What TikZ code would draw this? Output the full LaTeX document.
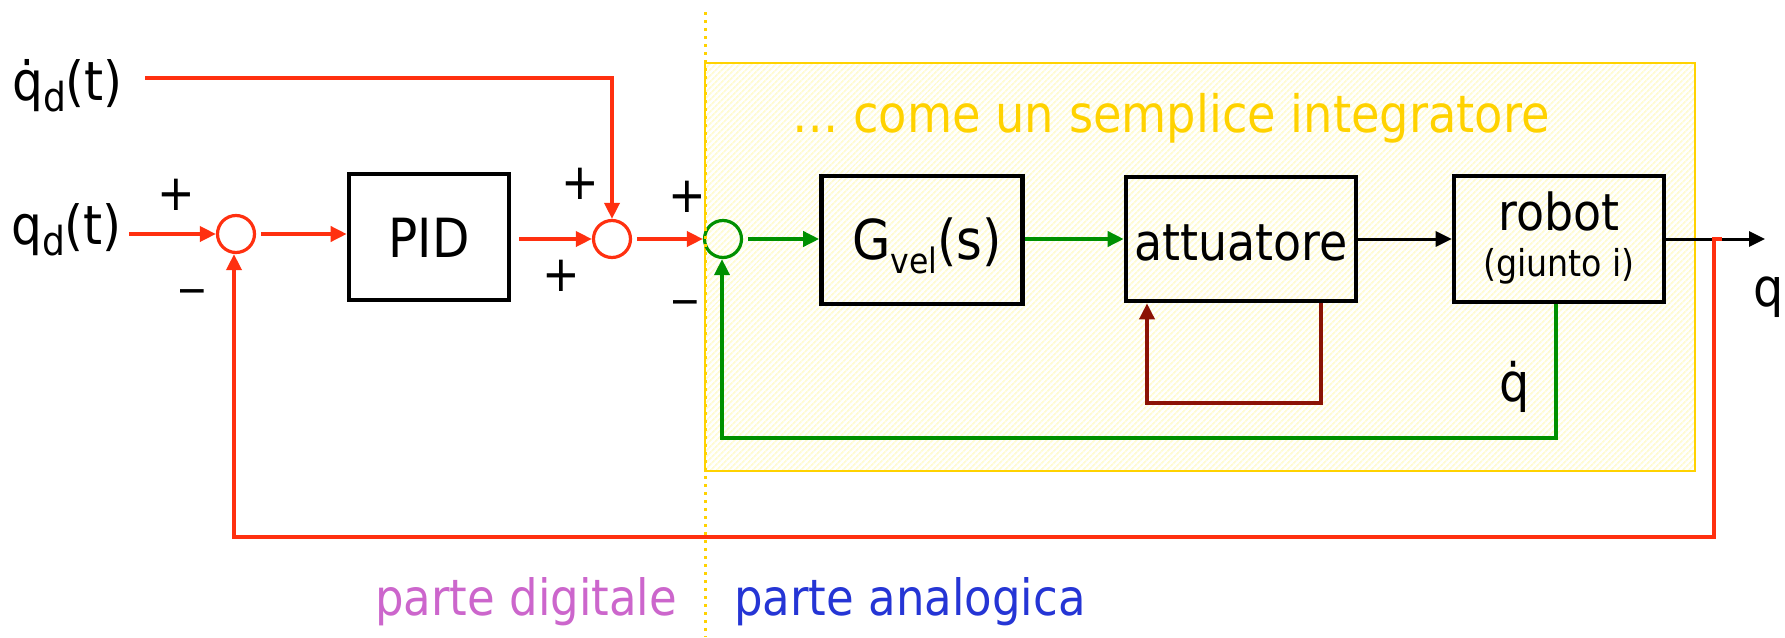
\documentclass[tikz,border=0pt]{standalone}
\usepackage{fontspec}
\setmainfont{DejaVu Sans}[FakeStretch=0.9]
\usetikzlibrary{arrows.meta,patterns.meta}
\definecolor{redc}{HTML}{FF3010}
\definecolor{greenc}{HTML}{009000}
\definecolor{dredc}{HTML}{8B1205}
\definecolor{goldc}{HTML}{FFD200}
\definecolor{hatchc}{HTML}{FFFBD2}
\definecolor{pinkc}{HTML}{CC66CC}
\definecolor{bluec}{HTML}{2535D5}
\newcommand{\fsz}[1]{\fontsize{#1}{#1}\selectfont}
\begin{document}
\begin{tikzpicture}[x=1pt,y=-1pt,
  tip/.style={-{Triangle[length=16pt,width=15pt]}},
  wire/.style={line width=3.6pt},
  sumnode/.style={circle,line width=3.2pt,minimum size=37pt,inner sep=0pt},
  block/.style={draw=black,line width=4.6pt,inner sep=0pt},
  lbl/.style={inner sep=0pt},
  sign/.style={inner sep=0pt,font=\fsz{50}},
  minus/.style={inner sep=0pt,font=\fsz{42}},
]
\path[use as bounding box,fill=white] (0,0) rectangle (1785,637);
% analog area
\path[pattern={Lines[angle=45,distance=4pt,line width=1.8pt]},pattern color=hatchc] (705,63) rectangle (1695,471);
\draw[goldc,line width=2.4pt] (705,63) rectangle (1695,471);
\node[lbl,anchor=base west,font=\fsz{51.5},text=goldc] (title) at (792,132) {… come un semplice integratore};

% inputs
\node[lbl,anchor=base west,font=\fsz{54}] (qdd) at (12,100) {\.{q}\raisebox{-11pt}{\fsz{40}d}(t)};
\node[lbl,anchor=base west,font=\fsz{54}] (qd) at (11,244) {q\raisebox{-11pt}{\fsz{40}d}(t)};

% blocks
\node[sumnode,draw=redc] (s1) at (236,234) {};
\node[block,minimum width=160pt,minimum height=126pt,font=\fsz{54},text height=40pt,text depth=0pt] (pid) at (429,237) {PID};
\node[sumnode,draw=redc] (s2) at (612,239) {};
\node[sumnode,draw=greenc] (s3) at (723,239) {};
\node[block,minimum width=201pt,minimum height=128pt,font=\fsz{55},text height=42pt,text depth=4pt] (gvel) at (922,240) {\hspace*{10pt}G\raisebox{-14pt}{\fsz{35}vel}(s)};
\node[block,minimum width=230pt,minimum height=124pt,font=\fsz{51},text height=42pt,text depth=0pt] (act) at (1241,239) {attuatore};
\node[block,minimum width=210pt,minimum height=126pt,align=center,font=\fontsize{37}{46}\selectfont,text height=83pt,text depth=9pt] (rob) at (1559,239) {{\fsz{51}robot}\\(giunto i)};

% signs
\node[sign] (p1) at (176,195) {+};
\node[minus] (m1) at (192,297) {−};
\node[sign] (p2a) at (580,184) {+};
\node[sign] (p2b) at (561,276) {+};
\node[sign] (p3) at (687,197) {+};
\node[minus] (m3) at (685,308) {−};

% output labels
\node[lbl,anchor=base west,font=\fsz{53}] (qdot) at (1499,401) {\.{q}};
\node[lbl,anchor=base west,font=\fsz{53}] (qout) at (1753,306) {q};

% coordinates
\coordinate (c1) at (612,78);
\coordinate (qend) at (1765,239);
\coordinate (j) at (1714,239);
\coordinate (jr) at (1722,239);
\coordinate (rb) at (1714,537);
\coordinate (lb) at (234,537);
\coordinate (gr) at (1556,438);
\coordinate (gl) at (722,438);
\coordinate (ar) at (1321,403);
\coordinate (al) at (1147,403);

% connectors
\draw[wire,redc,tip,shorten <=22pt] (qdd.east |- c1) -- (c1) -- (s2.north);
\draw[wire,redc,tip,shorten <=7pt] (qd.east |- s1) -- (s1.west);
\draw[wire,redc,tip,shorten <=5pt] (s1.east) -- (pid.west |- s1);
\draw[wire,redc,tip,shorten <=8pt] (pid.east |- s2) -- (s2.west);
\draw[wire,redc,tip,shorten <=5pt] (s2.east) -- (s3.west);
\draw[wire,greenc,tip,shorten <=5pt] (s3.east) -- (gvel.west |- s3);
\draw[wire,greenc,tip] (gvel.east |- act) -- (act.west);
\draw[wire,black,line width=3pt,tip] (act.east) -- (rob.west);
\draw[wire,black,line width=3pt,tip] (rob.east) -- (qend);
\draw[wire,dredc,tip] (act.south -| ar) -- (ar) -- (al) -- (act.south -| al);
\draw[wire,greenc,tip] (rob.south -| gr) -- (gr) -- (gl) -- (s3.south -| gl);
\draw[wire,redc,tip] (jr) -- (j) -- (rb) -- (lb) -- (s1.south -| lb);

% boundary digital / analog
\draw[goldc,line width=3pt,dash pattern=on 3pt off 5pt] (705,12) -- (705,637);
\node[lbl,anchor=base west,font=\fsz{50},text=pinkc] (dig) at (375,615) {parte digitale};
\node[lbl,anchor=base west,font=\fsz{50},text=bluec] (ana) at (734,615) {parte analogica};
\end{tikzpicture}
\end{document}
